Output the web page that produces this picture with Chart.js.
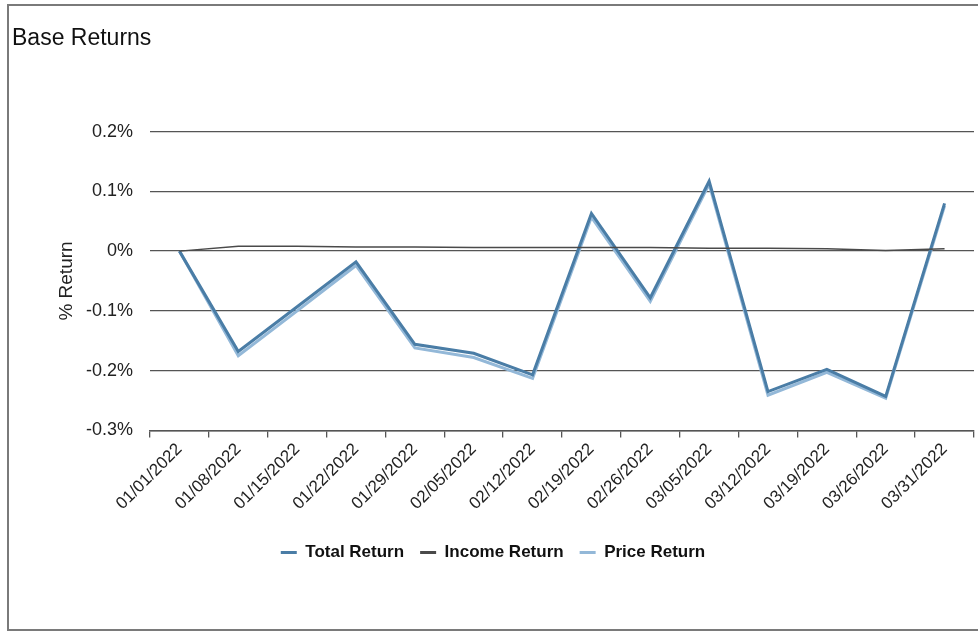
<!DOCTYPE html>
<html>
<head>
<meta charset="utf-8">
<script src="https://cdn.jsdelivr.net/npm/chart.js@4"></script>
<style>
  html, body { margin: 0; padding: 0; background: #fff; }
  #wrap { width: 978px; height: 632px; position: relative; }
</style>
</head>
<body>
<div id="wrap"><canvas id="c" width="978" height="632"></canvas></div>
<script>
const categories = ["01/01/2022","01/08/2022","01/15/2022","01/22/2022","01/29/2022","02/05/2022","02/12/2022","02/19/2022","02/26/2022","03/05/2022","03/12/2022","03/19/2022","03/26/2022","03/31/2022"];
const totalReturn  = [0, -0.168, -0.093, -0.018, -0.156, -0.171, -0.207, 0.063, -0.078, 0.117, -0.235, -0.198, -0.243, 0.080];
const incomeReturn = [0, 0.008, 0.008, 0.007, 0.007, 0.006, 0.006, 0.006, 0.006, 0.005, 0.005, 0.004, 0.001, 0.004];
const priceReturn  = [0, -0.175, -0.100, -0.024, -0.162, -0.178, -0.213, 0.057, -0.084, 0.112, -0.241, -0.203, -0.246, 0.076];
const yTicks = [-0.3, -0.2, -0.1, 0, 0.1, 0.2];

const FONT = "'Liberation Sans', Arial, sans-serif";

const framePlugin = {
  id: 'frame',
  afterDraw(chart) {
    const ctx = chart.ctx;
    ctx.save();
    ctx.strokeStyle = '#7a7a7a';
    ctx.lineWidth = 2;
    ctx.beginPath();
    ctx.moveTo(985, 5);
    ctx.lineTo(8, 5);
    ctx.lineTo(8, 630);
    ctx.lineTo(985, 630);
    ctx.stroke();
    ctx.restore();
  }
};

new Chart(document.getElementById('c'), {
  type: 'line',
  data: {
    labels: categories,
    datasets: [
      { label: 'Total Return', data: totalReturn, borderColor: '#4a7da6', backgroundColor: '#4a7da6', borderWidth: 3, pointRadius: 0, tension: 0, order: 1 },
      { label: 'Income Return', data: incomeReturn, borderColor: '#4a4a4a', backgroundColor: '#4a4a4a', borderWidth: 1.5, pointRadius: 0, tension: 0, order: 0 },
      { label: 'Price Return', data: priceReturn, borderColor: '#93b8d8', backgroundColor: '#93b8d8', borderWidth: 3, pointRadius: 0, tension: 0, order: 2 }
    ]
  },
  options: {
    responsive: false,
    animation: false,
    devicePixelRatio: 1,
    layout: { padding: { left: 12, right: 4, top: 0, bottom: 61 } },
    plugins: {
      title: {
        display: true,
        text: 'Base Returns',
        align: 'start',
        color: '#111',
        font: { family: FONT, size: 23, weight: 'normal' },
        padding: { top: 25, bottom: 79 }
      },
      legend: {
        position: 'bottom',
        labels: {
          color: '#111',
          font: { family: FONT, size: 17, weight: 'bold' },
          boxWidth: 16,
          boxHeight: 3,
          padding: 16,
          sort: (a, b) => a.datasetIndex - b.datasetIndex,
          generateLabels(chart) {
            const items = Chart.defaults.plugins.legend.labels.generateLabels(chart);
            items.forEach(it => { it.lineWidth = 0; it.fillStyle = it.strokeStyle; });
            return items;
          }
        }
      },
      tooltip: { enabled: false }
    },
    scales: {
      x: {
        offset: true,
        afterFit(scale) { scale.height += 12; },
        grid: { offset: true, drawOnChartArea: false, drawTicks: true, tickLength: 7, color: '#555', lineWidth: 1.3 },
        border: { display: true, color: '#555', width: 1.5 },
        ticks: { color: '#222', font: { family: FONT, size: 17 }, minRotation: 45, maxRotation: 45, autoSkip: false, padding: 2 }
      },
      y: {
        min: -0.3,
        max: 0.2,
        afterFit(scale) { scale.width = 138; },
        afterBuildTicks(scale) { scale.ticks = yTicks.map(v => ({ value: v })); },
        grid: { drawTicks: false, color: '#555', lineWidth: 1.3 },
        border: { display: false },
        ticks: {
          color: '#222',
          font: { family: FONT, size: 18 },
          padding: 17,
          callback(v) { const r = Math.round(v * 10) / 10; return r === 0 ? '0%' : r.toFixed(1) + '%'; }
        },
        title: {
          display: true,
          text: '% Return',
          color: '#222',
          font: { family: FONT, size: 19 },
          padding: { top: 43, bottom: 0 }
        }
      }
    }
  },
  plugins: [framePlugin]
});
</script>
</body>
</html>
